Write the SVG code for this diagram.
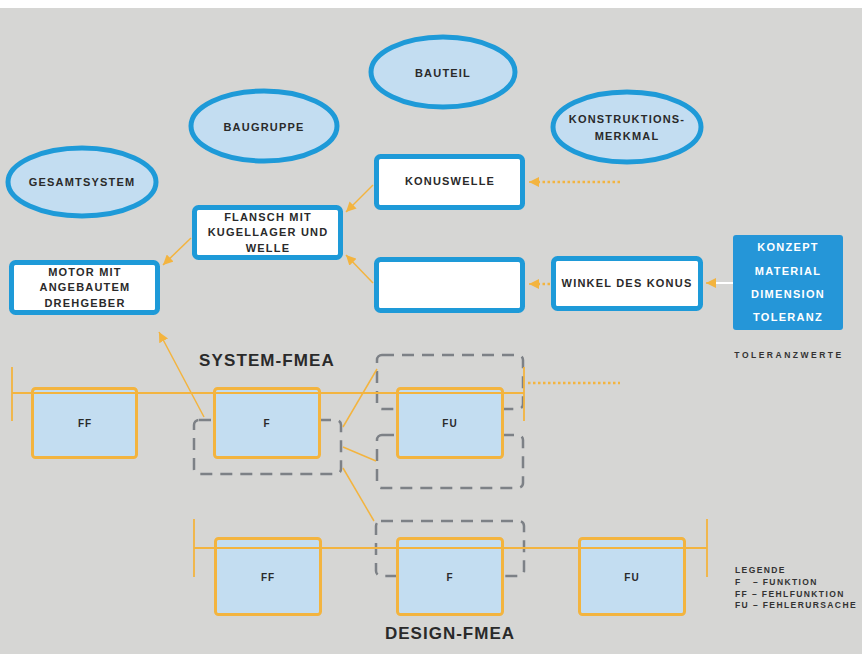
<svg xmlns="http://www.w3.org/2000/svg" width="862" height="654" viewBox="0 0 862 654">
<defs>
<style>
.t{font-family:"Liberation Sans",Arial,sans-serif;font-weight:bold;fill:#2a2a2a;text-anchor:middle;dominant-baseline:central}
.n{font-size:11px;letter-spacing:1.2px}
.w{fill:#ffffff;font-size:11px;letter-spacing:1.3px}
.lab{font-size:10px;letter-spacing:1px}
.big{font-size:17px;letter-spacing:1.1px}
.leg{font-size:8.5px;letter-spacing:1.4px;text-anchor:start;fill:#333}
.ell{fill:#c3ddf1;stroke:#1e9ad8;stroke-width:5}
.box{fill:#ffffff;stroke:#1e9ad8;stroke-width:5}
.ob{fill:#c3ddf1;stroke:#f3b43f;stroke-width:3}
.dash{fill:none;stroke:#7d8186;stroke-width:2.5;stroke-dasharray:12 8}
.ln{stroke:#f3b43f;stroke-width:1.5;fill:none}
.dot{stroke:#f3b43f;stroke-width:2.5;stroke-dasharray:2.5 2.5;fill:none}
.tl{stroke:#f3b43f;stroke-width:1.8;fill:none}
</style>
<marker id="ah" viewBox="0 0 10 10" refX="10" refY="5" markerWidth="10" markerHeight="10" markerUnits="userSpaceOnUse" orient="auto">
<path d="M0,0 L10,5 L0,10 Z" fill="#f3b43f"/>
</marker>
</defs>
<rect x="0" y="0" width="862" height="654" fill="#ffffff"/>
<rect x="0" y="8" width="862" height="646" fill="#d6d6d4"/>

<g id="dashed-groups">
<rect class="dash" x="194" y="420" width="147" height="54" rx="5"/>
<rect class="dash" x="377" y="355" width="146" height="54" rx="5"/>
<rect class="dash" x="377" y="435" width="146" height="53" rx="5"/>
<rect class="dash" x="376" y="521" width="148" height="55" rx="5"/>
</g>

<g id="connectors">
<line class="ln" x1="373" y1="185" x2="346" y2="212" marker-end="url(#ah)"/>
<line class="ln" x1="373" y1="283" x2="346" y2="255" marker-end="url(#ah)"/>
<line class="ln" x1="191" y1="238" x2="163" y2="265" marker-end="url(#ah)"/>
<line class="ln" x1="204" y1="417" x2="159" y2="332" marker-end="url(#ah)"/>
<line class="ln" x1="343" y1="427" x2="377" y2="369"/>
<line class="ln" x1="343" y1="447" x2="376" y2="461"/>
<line class="ln" x1="343" y1="468" x2="374" y2="521"/>
<line class="dot" x1="620" y1="182" x2="538" y2="182"/>
<line class="ln" x1="538" y1="182" x2="529" y2="182" marker-end="url(#ah)"/>
<line class="dot" x1="550" y1="284" x2="538" y2="284"/>
<line class="ln" x1="538" y1="284" x2="529" y2="284" marker-end="url(#ah)"/>
<line x1="733" y1="283" x2="714" y2="283" stroke="#ffffff" stroke-width="2"/>
<line class="ln" x1="715" y1="283" x2="706" y2="283" marker-end="url(#ah)"/>
<line class="dot" x1="528" y1="383" x2="620" y2="383"/>
</g>

<g id="n-bauteil"><ellipse class="ell" cx="443" cy="72" rx="72" ry="35"/><text class="t n" x="443" y="73">BAUTEIL</text></g>
<g id="n-baugruppe"><ellipse class="ell" cx="264" cy="126" rx="73" ry="35"/><text class="t n" x="264" y="127">BAUGRUPPE</text></g>
<g id="n-konstruktionsmerkmal"><ellipse class="ell" cx="627" cy="127" rx="74" ry="35"/><text class="t n" x="627" y="119">KONSTRUKTIONS-</text><text class="t n" x="627" y="136">MERKMAL</text></g>
<g id="n-gesamtsystem"><ellipse class="ell" cx="82" cy="182" rx="74" ry="34"/><text class="t n" x="82" y="182">GESAMTSYSTEM</text></g>

<g id="n-konuswelle"><rect class="box" x="376.5" y="156.5" width="146" height="51" rx="4"/><text class="t n" x="450" y="181">KONUSWELLE</text></g>
<g id="n-leer"><rect class="box" x="376.5" y="259.5" width="146" height="51" rx="4"/></g>
<g id="n-flansch"><rect class="box" x="194.5" y="207.5" width="146" height="50" rx="4"/><text class="t n" x="268" y="217">FLANSCH MIT</text><text class="t n" x="268" y="232">KUGELLAGER UND</text><text class="t n" x="268" y="248">WELLE</text></g>
<g id="n-motor"><rect class="box" x="11.5" y="262.5" width="146" height="50" rx="4"/><text class="t n" x="85" y="272">MOTOR MIT</text><text class="t n" x="85" y="287">ANGEBAUTEM</text><text class="t n" x="85" y="303">DREHGEBER</text></g>
<g id="n-winkel"><rect class="box" x="553.5" y="258.5" width="147" height="50" rx="4"/><text class="t n" x="627" y="283">WINKEL DES KONUS</text></g>
<g id="n-konzept"><rect x="733" y="235" width="110" height="95" rx="3" fill="#2596d8"/>
<text class="t w" x="788" y="247">KONZEPT</text><text class="t w" x="788" y="271">MATERIAL</text><text class="t w" x="788" y="294">DIMENSION</text><text class="t w" x="788" y="317">TOLERANZ</text></g>
<text class="t" x="789" y="355" style="font-size:8.5px;letter-spacing:2.5px;fill:#333">TOLERANZWERTE</text>

<g id="system-fmea">
<text class="t big" x="267" y="360">SYSTEM-FMEA</text>
<g id="s-ff"><rect class="ob" x="32.5" y="388.5" width="104" height="69" rx="3"/><text class="t lab" x="85" y="423">FF</text></g>
<g id="s-f"><rect class="ob" x="214.5" y="388.5" width="105" height="69" rx="3"/><text class="t lab" x="267" y="423">F</text></g>
<g id="s-fu"><rect class="ob" x="397.5" y="388.5" width="105" height="69" rx="3"/><text class="t lab" x="450" y="423">FU</text></g>
<line class="tl" x1="12" y1="393" x2="524" y2="393"/>
<line class="tl" x1="12" y1="367" x2="12" y2="421"/>
<line class="tl" x1="524" y1="367" x2="524" y2="421"/>
</g>

<g id="design-fmea">
<g id="d-ff"><rect class="ob" x="215.5" y="538.5" width="105" height="76" rx="3"/><text class="t lab" x="268" y="577">FF</text></g>
<g id="d-f"><rect class="ob" x="397.5" y="538.5" width="105" height="76" rx="3"/><text class="t lab" x="450" y="577">F</text></g>
<g id="d-fu"><rect class="ob" x="579.5" y="538.5" width="105" height="76" rx="3"/><text class="t lab" x="632" y="577">FU</text></g>
<line class="tl" x1="194" y1="548" x2="707" y2="548"/>
<line class="tl" x1="194" y1="519" x2="194" y2="577"/>
<line class="tl" x1="707" y1="519" x2="707" y2="577"/>
<text class="t big" x="450" y="633" style="letter-spacing:1px">DESIGN-FMEA</text>
</g>

<g id="legende">
<text class="t leg" x="735" y="570">LEGENDE</text>
<text class="t leg" x="735" y="582" xml:space="preserve">F   – FUNKTION</text>
<text class="t leg" x="735" y="594">FF – FEHLFUNKTION</text>
<text class="t leg" x="735" y="605">FU – FEHLERURSACHE</text>
</g>
</svg>
